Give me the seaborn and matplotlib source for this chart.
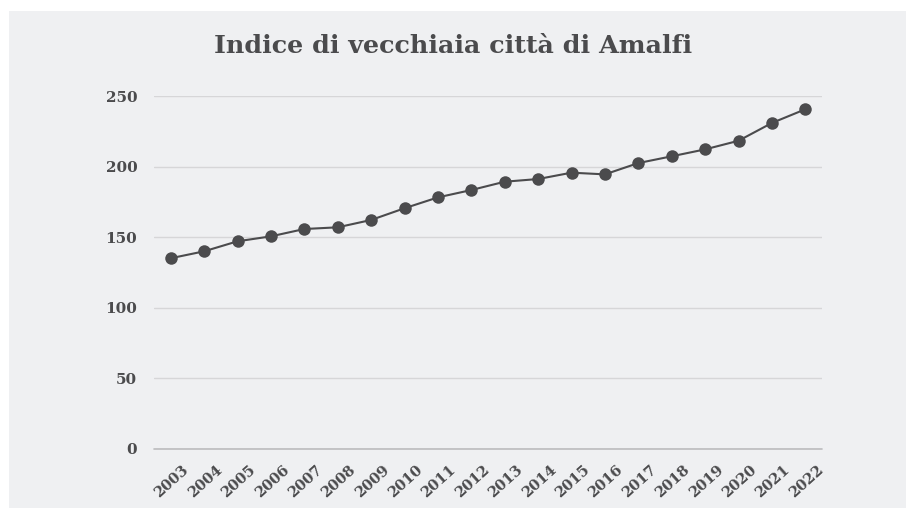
import matplotlib
matplotlib.use("Agg")
import matplotlib.pyplot as plt
from matplotlib.patches import Rectangle
from matplotlib.transforms import ScaledTranslation
import seaborn as sns
import pandas as pd

YEARS = list(range(2003, 2023))
INDICE = [135.1, 140.0, 147.1, 150.6, 155.8, 157.0, 162.2, 170.5, 178.2, 183.4,
          189.3, 191.2, 195.7, 194.5, 202.5, 207.3, 212.2, 218.3, 230.9, 240.6]
Y_TICKS = [0, 50, 100, 150, 200, 250]

BG = "#eff0f2"
INK = "#4b4b4d"

sns.set_theme(style="white")
plt.rcParams["font.family"] = ["DejaVu Serif"]

df = pd.DataFrame({"anno": YEARS, "indice": INDICE})

fig = plt.figure(figsize=(9.06, 5.08), dpi=100, facecolor="white")
fig.patches.append(Rectangle((9 / 906, 0), 1, (508 - 11) / 508,
                             transform=fig.transFigure, facecolor=BG,
                             edgecolor="none", zorder=-5))
ax = fig.add_axes([154 / 906, 59 / 508, 668 / 906, 353 / 508])
ax.set_facecolor(BG)

sns.lineplot(data=df, x="anno", y="indice", ax=ax, color=INK, linewidth=1.5,
             marker="o", markersize=9, markeredgewidth=0, zorder=3)

ax.set_xlim(2002.5, 2022.5)
ax.set_ylim(0, 250)
ax.set_yticks(Y_TICKS)
ax.set_xticks(YEARS)
ax.set_xticklabels([str(y) for y in YEARS], rotation=42, ha="right", va="center",
                   rotation_mode="anchor", fontsize=10.5, fontweight="bold", color=INK)
ax.set_yticklabels([str(v) for v in Y_TICKS], fontsize=11, fontweight="bold", color=INK)
ax.tick_params(axis="x", length=0, pad=0)
ax.tick_params(axis="y", length=0, pad=12)
shift = ScaledTranslation(16 / 100, -19 / 100, fig.dpi_scale_trans)
for lab in ax.get_xticklabels():
    lab.set_transform(lab.get_transform() + shift)
ax.grid(axis="y", color="#d6d6d8", linewidth=1)
ax.axhline(0, color="#bcbcbe", linewidth=1.2, zorder=1, clip_on=False)
for s in ax.spines.values():
    s.set_visible(False)
ax.set_xlabel("")
ax.set_ylabel("")

fig.text(453 / 906, 1 - 46 / 508, "Indice di vecchiaia città di Amalfi",
         ha="center", va="center", fontsize=18.3, fontweight="bold", color=INK)

fig.savefig("out.png", dpi=100, facecolor="white")
